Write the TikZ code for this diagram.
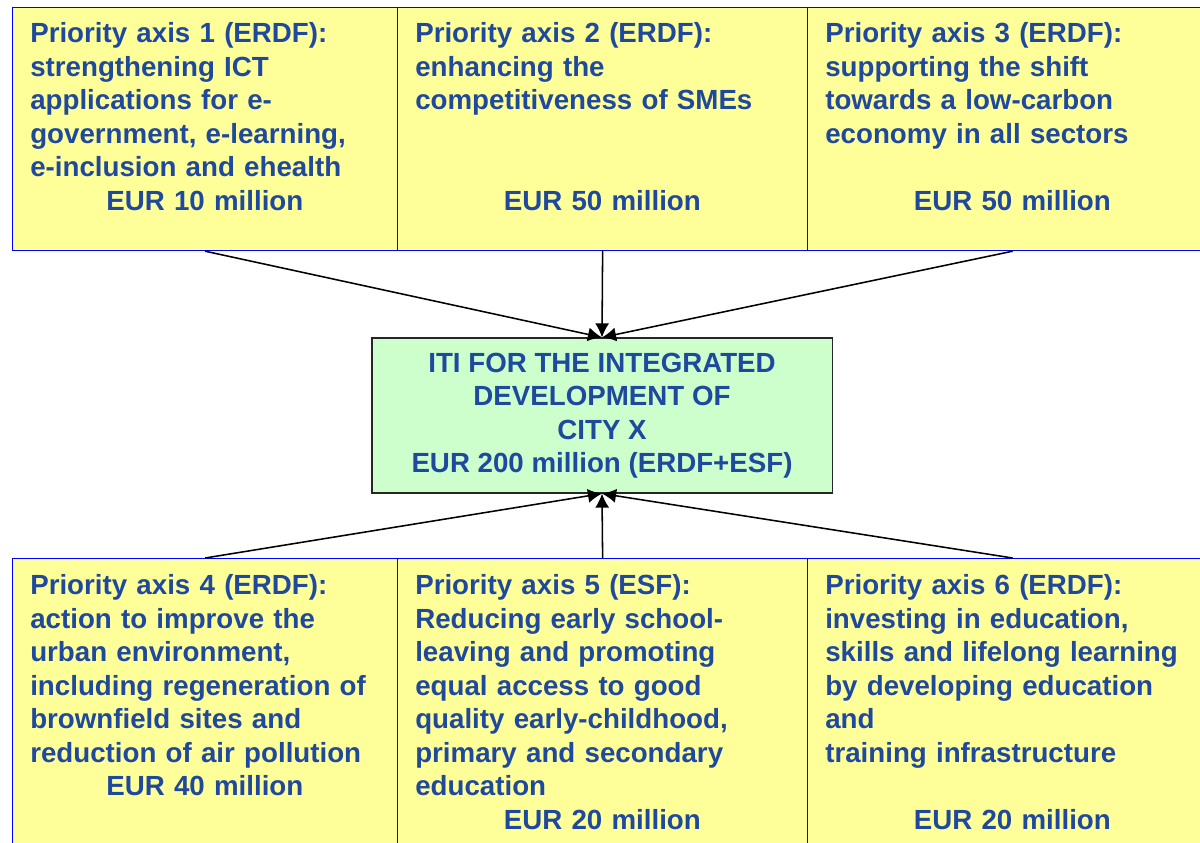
\documentclass[tikz,border=0pt]{standalone}
\usepackage{fontspec}
\setmainfont{Liberation Sans}
\usetikzlibrary{arrows.meta}
\definecolor{axisblue}{RGB}{31,73,158}
\definecolor{axisyellow}{RGB}{255,255,153}
\definecolor{itigreen}{RGB}{204,255,204}
\definecolor{frameblue}{RGB}{0,0,255}
\tikzstyle{box}=[draw=frameblue, fill=axisyellow, line width=0.8pt, anchor=north west, inner sep=0pt]
\tikzstyle{nbox}=[box, minimum width=9.625cm]
\tikzstyle{wbox}=[box, minimum width=10.25cm]
\tikzstyle{desc}=[anchor=north west, inner sep=0pt, align=left, text=axisblue, font=\bfseries\fontsize{19.7}{23.8}\selectfont]
\tikzstyle{ndesc}=[desc, text width=8.725cm]
\tikzstyle{wdesc}=[desc, text width=9.35cm]
\tikzstyle{iti}=[draw=black!85, fill=itigreen, line width=0.8pt, minimum width=11.5cm, minimum height=3.875cm, align=center, text=axisblue, font=\bfseries\fontsize{19.7}{23.8}\selectfont]
\tikzstyle{link}=[-{Latex[length=10pt,width=10pt]}, line width=1.1pt]
\newcommand{\amount}[1]{\makebox[\linewidth]{#1}}

\begin{document}
\begin{tikzpicture}[x=0.025cm, y=-0.025cm]
        \useasboundingbox (0,0) rectangle (1200,842);
        % upper row
        \node[nbox, minimum height=6.075cm] (P1) at (12, 7) {};
        \node[wbox, minimum height=6.075cm] (P2) at (397, 7) {};
        \node[wbox, minimum height=6.075cm] (P3) at (807, 7) {};
        \node[ndesc] (P1text) at (30, 22.5) {Priority axis 1 (ERDF):\\ strengthening ICT\\ applications for e-\\ government, e-learning,\\ e-inclusion and ehealth\\ \amount{EUR 10 million}};
        \node[wdesc] (P2text) at (415, 22.5) {Priority axis 2 (ERDF):\\ enhancing the\\ competitiveness of SMEs\\[47.6pt] \amount{EUR 50 million}};
        \node[wdesc] (P3text) at (825, 22.5) {Priority axis 3 (ERDF):\\ supporting the shift\\ towards a low-carbon\\ economy in all sectors\\[23.8pt] \amount{EUR 50 million}};
        % lower row
        \node[nbox, minimum height=7.5cm] (P4) at (12, 558) {};
        \node[wbox, minimum height=7.5cm] (P5) at (397, 558) {};
        \node[wbox, minimum height=7.5cm] (P6) at (807, 558) {};
        \node[ndesc] (P4text) at (30, 574.5) {Priority axis 4 (ERDF):\\ action to improve the\\ urban environment,\\ including regeneration of\\ brownfield sites and\\ reduction of air pollution\\ \amount{EUR 40 million}};
        \node[wdesc] (P5text) at (415, 574.5) {Priority axis 5 (ESF):\\ Reducing early school-\\ leaving and promoting\\ equal access to good\\ quality early-childhood,\\ primary and secondary\\ education\\ \amount{EUR 20 million}};
        \node[wdesc] (P6text) at (825, 574.5) {Priority axis 6 (ERDF):\\ investing in education,\\ skills and lifelong learning\\ by developing education\\ and\\ training infrastructure\\[23.8pt] \amount{EUR 20 million}};
        % ITI
        \node[iti] (ITI) at (602, 415.5) {ITI FOR THE INTEGRATED\\ DEVELOPMENT OF\\ CITY X\\ EUR 200 million (ERDF+ESF)};
        \draw[link] (P1.south) -- (ITI.north);
        \draw[link] (P2.south) -- (ITI.north);
        \draw[link] (P3.south) -- (ITI.north);
        \draw[link] (P4.north) -- (ITI.south);
        \draw[link] (P5.north) -- (ITI.south);
        \draw[link] (P6.north) -- (ITI.south);
    \end{tikzpicture}
\end{document}
